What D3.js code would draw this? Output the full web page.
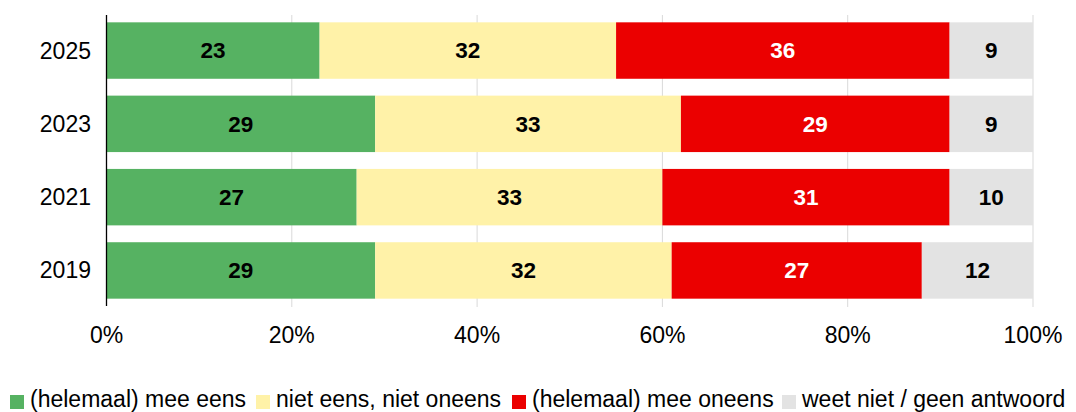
<!DOCTYPE html>
<html><head><meta charset="utf-8">
<script src="https://cdn.jsdelivr.net/npm/d3@7"></script>
<style>body{margin:0;background:#fff}svg{display:block;font-family:"Liberation Sans",Arial,sans-serif}</style>
</head><body><svg id="c" width="1076" height="412"></svg>
<script>
const years = ["2025","2023","2021","2019"];
const seriesNames = ["(helemaal) mee eens","niet eens, niet oneens","(helemaal) mee oneens","weet niet / geen antwoord"];
const eens = [23,29,27,29];
const neutraal = [32,33,33,32];
const oneens = [36,29,31,27];
const weetNiet = [9,9,10,12];
const xTicks = [0,20,40,60,80,100];
const colors = ["#56B262","#FFF2A8","#EB0000","#E3E3E3"];
const labelColors = ["#000","#000","#fff","#000"];

const svg = d3.select("#c");
const margin = {left:106.5, right:43, top:15, bottom:106};
const W = 1076, H = 412;
const x = d3.scaleLinear().domain([0,100]).range([margin.left, W - margin.right]).clamp(true);
const y = d3.scaleBand().domain(years).range([margin.top, H - margin.bottom]).paddingInner(0.23).paddingOuter(0.1);

const series = [eens, neutraal, oneens, weetNiet];
const rows = years.map((yr,i)=>{ const o={year:yr}; seriesNames.forEach((s,j)=>o[s]=series[j][i]); return o;});
const stacked = d3.stack().keys(seriesNames)(rows);

// gridlines
svg.append("g").selectAll("line").data(xTicks.slice(1)).join("line")
  .attr("x1",d=>x(d)).attr("x2",d=>x(d)).attr("y1",margin.top).attr("y2",H-margin.bottom+1)
  .attr("stroke","#D9D9D9").attr("stroke-width",1);

// bars
const g = svg.append("g");
stacked.forEach((layer,j)=>{
  g.append("g").selectAll("rect").data(layer).join("rect")
    .attr("x",d=>x(d[0])).attr("width",d=>x(d[1])-x(d[0]))
    .attr("y",d=>y(d.data.year)).attr("height",y.bandwidth())
    .attr("fill",colors[j]);
  g.append("g").selectAll("text").data(layer).join("text")
    .attr("x",d=>(x(d[0])+x(d[1]))/2).attr("y",d=>y(d.data.year)+y.bandwidth()/2)
    .attr("dy","0.35em").attr("text-anchor","middle")
    .attr("font-size",22.5).attr("font-weight","bold").attr("fill",labelColors[j])
    .text(d=>d[1]-d[0]);
});

// y axis line
svg.append("line").attr("x1",x(0)).attr("x2",x(0)).attr("y1",margin.top).attr("y2",H-margin.bottom)
  .attr("stroke","#000").attr("stroke-width",1.3);

// y labels
svg.append("g").selectAll("text").data(years).join("text")
  .attr("x",91).attr("y",d=>y(d)+y.bandwidth()/2).attr("dy","0.35em")
  .attr("text-anchor","end").attr("font-size",23).attr("fill","#000").text(d=>d);

// x labels
svg.append("g").selectAll("text").data(xTicks).join("text")
  .attr("x",d=>x(d)).attr("y",335).attr("dy","0.35em")
  .attr("text-anchor","middle").attr("font-size",23).attr("fill","#000").text(d=>d+"%");

// legend
const legX = [10,256,512,782];
const lg = svg.append("g");
seriesNames.forEach((s,j)=>{
  lg.append("rect").attr("x",legX[j]).attr("y",395).attr("width",14).attr("height",14).attr("fill",colors[j]);
  lg.append("text").attr("x",legX[j]+20).attr("y",406.5).attr("font-size",23).attr("fill","#000").text(s);
});
</script></body></html>
